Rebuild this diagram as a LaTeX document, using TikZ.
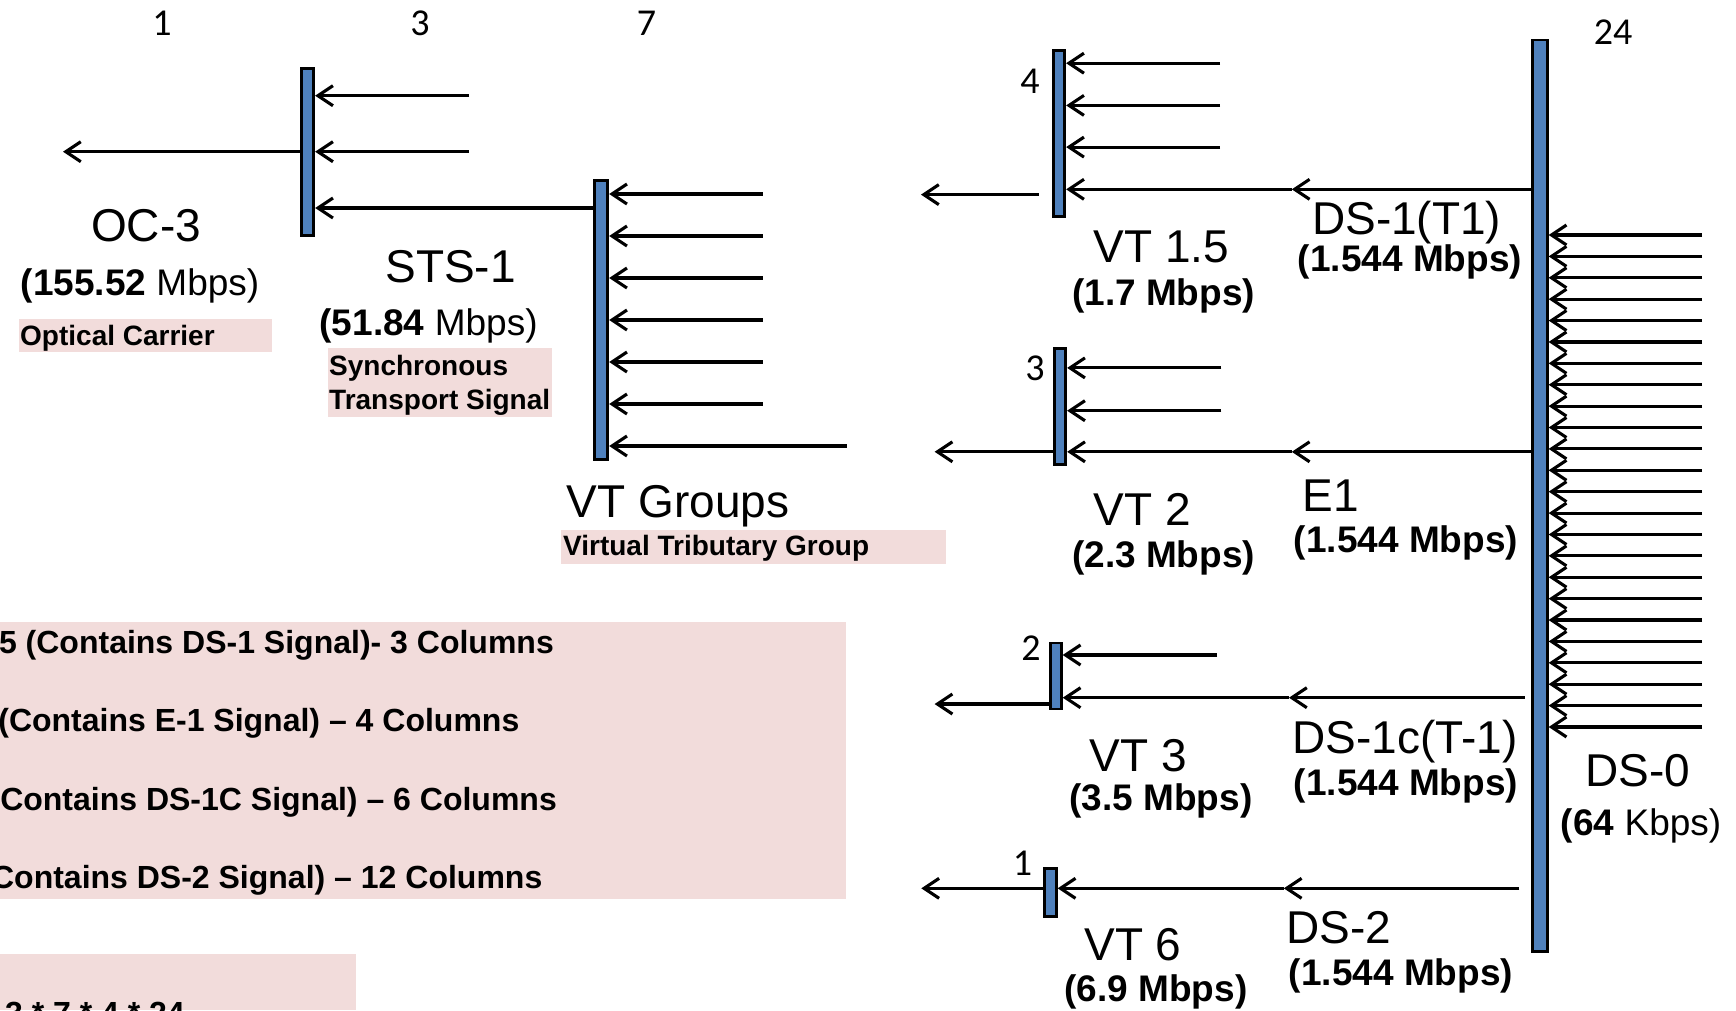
\documentclass[tikz,border=0pt]{standalone}
\usepackage{fontspec}
\setmainfont{Liberation Sans}
\newfontfamily\numfont{Carlito}
\usetikzlibrary{arrows.meta}
\definecolor{barblue}{RGB}{79,129,189}
\definecolor{pinkbg}{RGB}{242,220,219}
\begin{document}
\begin{tikzpicture}[x=1pt,y=-1pt,
  bar/.style={draw=black,fill=barblue,line width=2.8pt,inner sep=0pt,rectangle},
  arr/.style={line width=3.1pt,-{Straight Barb[length=15pt,width=20pt]}},
  lbl/.style={inner sep=0pt,anchor=base},
  big/.style={lbl,font=\fontsize{46}{52}\selectfont},
  rate/.style={lbl,font=\fontsize{37}{42}\selectfont\bfseries},
  rateb/.style={lbl,font=\fontsize{37}{42}\selectfont},
  tag/.style={lbl,anchor=base west,font=\fontsize{28}{34}\selectfont\bfseries},
  note/.style={lbl,anchor=base east,font=\fontsize{32}{38}\selectfont\bfseries},
  num/.style={lbl,font=\numfont\fontsize{38}{44}\selectfont},
]
\useasboundingbox (0,0) rectangle (1736,1010);

% pink backgrounds
\fill[pinkbg] (19,319) rectangle (272,352);
\fill[pinkbg] (328,348) rectangle (552,417);
\fill[pinkbg] (561,530) rectangle (946,563.5);
\fill[pinkbg] (0,622) rectangle (846,899);
\fill[pinkbg] (0,954) rectangle (356,1010);

% bars
\node[bar,minimum width=12.5pt,minimum height=167.5pt] (oc3) at (307.5,152) {};
\node[bar,minimum width=13.5pt,minimum height=279.5pt] (vtg) at (601,320) {};
\node[bar,minimum width=11.5pt,minimum height=166.5pt] (vt15) at (1059,133.5) {};
\node[bar,minimum width=11.5pt,minimum height=116.5pt] (vt2) at (1060,406.5) {};
\node[bar,minimum width=11pt,minimum height=66pt] (vt3) at (1055.8,676) {};
\node[bar,minimum width=12pt,minimum height=48.5pt] (vt6) at (1050.3,892.5) {};
\node[bar,minimum width=14.5pt,minimum height=911.5pt] (ds0) at (1540,495.8) {};

% OC-3 inputs and output
\coordinate (oi1) at (469,95.7);
\coordinate (oi2) at (469,151.7);
\coordinate (oct) at (63,151.7);
\coordinate (g) at (0,208);
\draw[arr] (oi1) -- (oc3.east |- oi1);
\draw[arr] (oi2) -- (oc3.east |- oi2);
\draw[arr] (oc3.west |- oct) -- (oct);
\draw[arr] (vtg.west |- g) -- (oc3.east |- g);

% VT group inputs
\foreach \yy [count=\i] in {194,236,278,320,362,404}{
  \coordinate (gi\i) at (762.7,\yy);
  \draw[arr] (gi\i) -- (vtg.east |- gi\i);
}
\coordinate (gi7) at (846.7,446);
\draw[arr] (gi7) -- (vtg.east |- gi7);

% VT 1.5
\foreach \yy [count=\i] in {63.2,105.4,147.1}{
  \coordinate (a\i) at (1220,\yy);
  \draw[arr] (a\i) -- (vt15.east |- a\i);
}
\coordinate (m1) at (1291.8,189.3);
\draw[arr] (ds0.west |- m1) -- (m1);
\draw[arr] (m1) -- (vt15.east |- m1);
\coordinate (o15s) at (1038.6,194.6);
\coordinate (o15t) at (921,194.6);
\draw[arr] (o15s) -- (o15t);

% VT 2
\foreach \yy [count=\i] in {367.9,410.7}{
  \coordinate (b\i) at (1221.4,\yy);
  \draw[arr] (b\i) -- (vt2.east |- b\i);
}
\coordinate (m2) at (1291.8,451.8);
\draw[arr] (ds0.west |- m2) -- (m2);
\draw[arr] (m2) -- (vt2.east |- m2);
\coordinate (o2t) at (934.6,451.8);
\draw[arr] (vt2.west |- o2t) -- (o2t);

% VT 3
\coordinate (c1) at (1217,655);
\draw[arr] (c1) -- (vt3.east |- c1);
\coordinate (s3) at (1524.7,697.7);
\coordinate (m3) at (1289,697.7);
\draw[arr] (s3) -- (m3);
\draw[arr] (m3) -- (vt3.east |- m3);
\coordinate (o3t) at (934.6,704);
\draw[arr] (vt3.west |- o3t) -- (o3t);

% VT 6
\coordinate (s6) at (1519.4,888.3);
\coordinate (m6) at (1283.8,888.3);
\draw[arr] (s6) -- (m6);
\draw[arr] (m6) -- (vt6.east |- m6);
\coordinate (o6t) at (921.3,888.3);
\draw[arr] (vt6.west |- o6t) -- (o6t);

% DS-0 inputs
\foreach \k in {0,...,23}{
  \pgfmathsetmacro{\yy}{235+21.39*\k}
  \coordinate (d\k) at (1702,\yy);
  \draw[arr] (d\k) -- (ds0.east |- d\k);
}

% top numbers
\node[num] (n1) at (162,35) {1};
\node[num] (n3) at (420,35) {3};
\node[num] (n7) at (646.5,35) {7};
\node[num] (n24) at (1613,44.5) {24};
\node[num] (n4) at (1030,93.6) {4};
\node[num] (nv3) at (1035,380) {3};
\node[num] (nv2) at (1031,660) {2};
\node[num] (nv1) at (1022.6,875) {1};

% left labels
\node[big] (toc3) at (146,241) {OC-3};
\node[rateb] (roc3) at (140,295.5) {\textbf{(155.52} Mbps)};
\node[tag] (topt) at (20,345.5) {Optical Carrier};
\node[big] (tsts) at (450.6,282) {STS-1};
\node[rateb] (rsts) at (428.6,335) {\textbf{(51.84} Mbps)};
\node[tag] (tsyn) at (329,375) {Synchronous};
\node[tag] (ttra) at (329,409) {Transport Signal};
\node[big] (tvtg) at (678,517) {VT Groups};
\node[tag] (tvirt) at (563,555) {Virtual Tributary Group};

% right labels
\node[big] (tvt15) at (1161.5,262) {VT 1.5};
\node[rate] (rvt15) at (1163.6,305) {(1.7 Mbps)};
\node[big] (tds1) at (1406.7,234.5) {DS-1(T1)};
\node[rate] (rds1) at (1410,271) {(1.544 Mbps)};
\node[big] (tvt2) at (1142.5,525.5) {VT 2};
\node[rate] (rvt2) at (1163.6,567) {(2.3 Mbps)};
\node[big,anchor=base west] (te1) at (1302.5,511.5) {E1};
\node[rate] (re1) at (1406,552) {(1.544 Mbps)};
\node[big] (tvt3) at (1138.5,771) {VT 3};
\node[rate] (rvt3) at (1161,810) {(3.5 Mbps)};
\node[big] (tds1c) at (1405,753.6) {DS-1c(T-1)};
\node[rate] (rds1c) at (1406,795) {(1.544 Mbps)};
\node[big] (tvt6) at (1133,960.7) {VT 6};
\node[rate] (rvt6) at (1156,1001) {(6.9 Mbps)};
\node[big] (tds2) at (1339,943) {DS-2};
\node[rate] (rds2) at (1401,985) {(1.544 Mbps)};
\node[big] (tds0) at (1638,786) {DS-0};
\node[rateb] (rds0) at (1641,835) {\textbf{(64} Kbps)};

% notes box
\node[note] (l1) at (554,653.5) {5 (Contains DS-1 Signal)- 3 Columns};
\node[note] (l2) at (519.5,731.7) {(Contains E-1 Signal) – 4 Columns};
\node[note] (l3) at (557,810) {Contains DS-1C Signal) – 6 Columns};
\node[note] (l4) at (542.5,888) {Contains DS-2 Signal) – 12 Columns};
\node[note] (l5) at (185,1024) {3 * 7 * 4 * 24};
\end{tikzpicture}
\end{document}
